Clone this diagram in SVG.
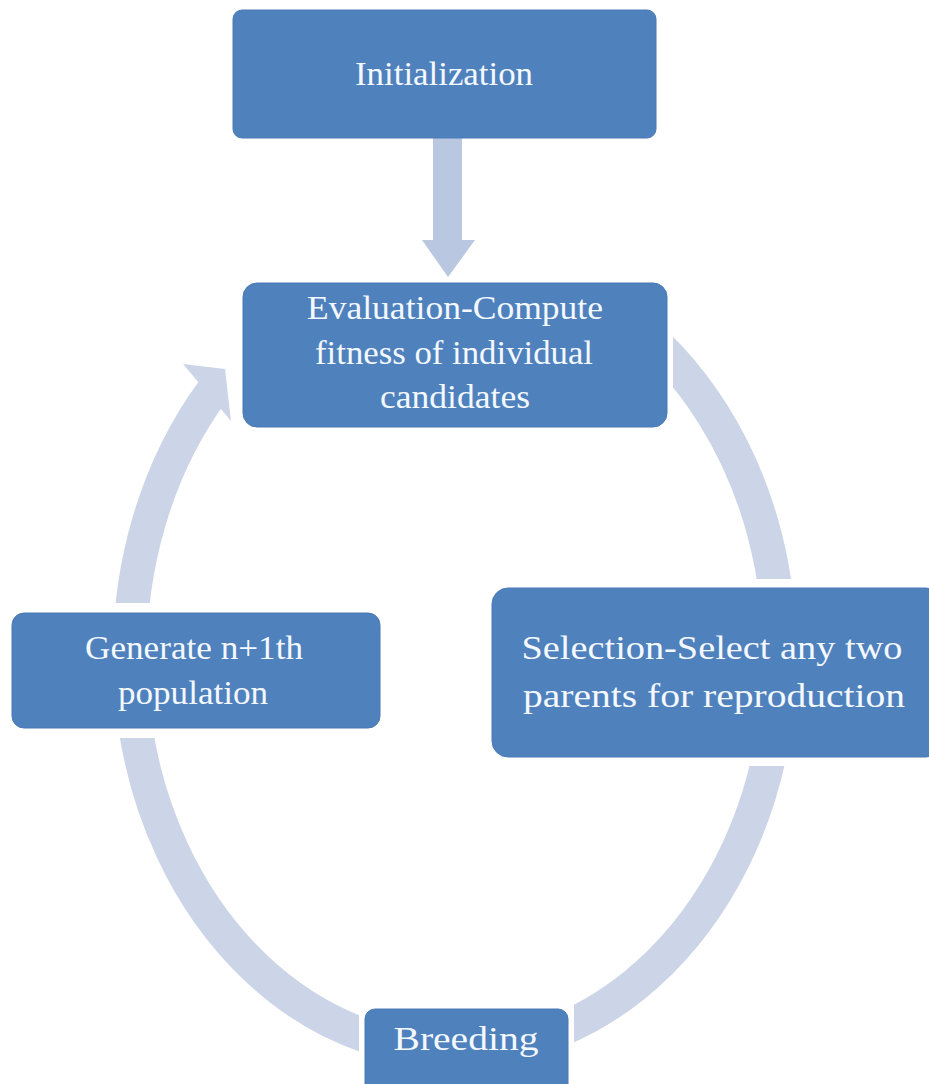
<svg xmlns="http://www.w3.org/2000/svg" width="929" height="1084" viewBox="0 0 929 1084">
  <style>
    .box { fill: #4F81BD; stroke: #4A7AB5; stroke-width: 1; }
    .label { font-family: "Liberation Serif", "Times New Roman", serif; font-size: 34px; fill: #F4F8FF; text-anchor: middle; }
    .ring { fill: none; stroke: #CCD5E7; stroke-width: 34; stroke-linecap: butt; }
    .ringHead { fill: #CCD5E7; }
    .flow { fill: #B9C8E0; }
  </style>
  <defs>
    <!-- cycle ring stops short of every box -->
    <mask id="ringGaps" maskUnits="userSpaceOnUse" x="0" y="0" width="929" height="1084">
      <rect x="0" y="0" width="929" height="1084" fill="#fff"/>
      <rect x="237" y="277" width="436" height="156" fill="#000"/>
      <rect x="2" y="603" width="388" height="135" fill="#000"/>
      <rect x="483" y="579" width="457" height="187" fill="#000"/>
      <rect x="359" y="1003" width="215" height="97" fill="#000"/>
    </mask>
  </defs>

  <rect x="0" y="0" width="929" height="1084" fill="#FFFFFF"/>

  <g id="connectors">
    <!-- downward arrow: Initialization to Evaluation -->
    <polygon class="flow" points="433,137 462,137 462,240 475,240 448,277 422,240 433,240"/>
    <!-- clockwise cycle through the four stages -->
    <g mask="url(#ringGaps)">
      <path class="ring" d="M617.5,312.1 A325,396 0 1 1 213.5,390.0"/>
    </g>
    <polygon class="ringHead" points="183,364 225,369 231,421"/>
  </g>

  <g id="node-initialization">
    <rect class="box" x="233" y="10" width="423" height="128" rx="9"/>
    <text class="label" x="444" y="85" textLength="178" lengthAdjust="spacingAndGlyphs">Initialization</text>
  </g>

  <g id="node-evaluation">
    <rect class="box" x="243" y="283" width="424" height="144" rx="14"/>
    <text class="label" x="455" y="319" textLength="296" lengthAdjust="spacingAndGlyphs">Evaluation-Compute</text>
    <text class="label" x="454" y="364" textLength="278" lengthAdjust="spacingAndGlyphs">fitness of individual</text>
    <text class="label" x="455" y="408" textLength="150" lengthAdjust="spacingAndGlyphs">candidates</text>
  </g>

  <g id="node-generate">
    <rect class="box" x="12" y="613" width="368" height="115" rx="12"/>
    <text class="label" x="194" y="659" textLength="218" lengthAdjust="spacingAndGlyphs">Generate n+1th</text>
    <text class="label" x="193" y="704" textLength="150" lengthAdjust="spacingAndGlyphs">population</text>
  </g>

  <g id="node-selection">
    <rect class="box" x="492" y="588" width="450" height="169" rx="16"/>
    <text class="label" x="712" y="659" textLength="381" lengthAdjust="spacingAndGlyphs">Selection-Select any two</text>
    <text class="label" x="714" y="707" textLength="382" lengthAdjust="spacingAndGlyphs">parents for reproduction</text>
  </g>

  <g id="node-breeding">
    <rect class="box" x="365" y="1009" width="203" height="90" rx="10"/>
    <text class="label" x="466" y="1050" textLength="145" lengthAdjust="spacingAndGlyphs">Breeding</text>
  </g>
</svg>
